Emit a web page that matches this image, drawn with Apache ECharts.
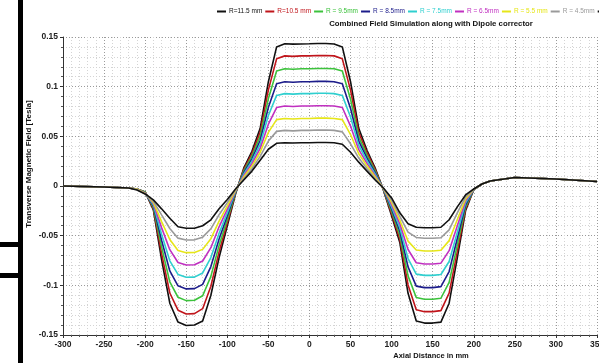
<!DOCTYPE html>
<html>
<head>
<meta charset="utf-8">
<script src="https://cdn.jsdelivr.net/npm/echarts@6/dist/echarts.min.js"></script>
<style>
  html, body {margin: 0; padding: 0; background: #fff;}
  #chart {width: 599px; height: 363px;}
</style>
</head>
<body>
<div id="chart"></div>
<script>
// axial positions in mm
const xPos = [-300, -250, -220, -210, -200, -190, -180, -170, -160, -150, -140, -130, -120, -110, -100, -90, -80, -70, -60, -50,
  -40, -30, -20, -10, 0, 10, 20, 30, 40, 50, 60, 70, 80, 90, 100, 110, 120, 130, 140, 150,
  160, 170, 180, 190, 200, 210, 220, 250, 300, 350];

const seriesNames = ['R=11.5 mm', 'R=10.5 mm', 'R = 9.5mm', 'R = 8.5mm', 'R = 7.5mm', 'R = 6.5mm', 'R = 5.5 mm', 'R = 4.5mm', 'R = 3.5mm'];
const seriesColors = ['#111111', '#c0151b', '#3cc23c', '#1c1c8a', '#2fcfcf', '#c030c0', '#e6e619', '#9a9a9a', '#111111'];

// transverse field in Tesla, one array per radius
const r115 = [0, -0.001, -0.002, -0.003, -0.006, -0.024, -0.074, -0.118, -0.137, -0.1405, -0.140, -0.136, -0.110, -0.072, -0.040, -0.008, 0.018, 0.035, 0.058, 0.105,
  0.140, 0.1432, 0.1428, 0.143, 0.1432, 0.1435, 0.1435, 0.143, 0.140, 0.105, 0.058, 0.036, 0.018, -0.004, -0.030, -0.057, -0.108, -0.136, -0.138, -0.138,
  -0.137, -0.118, -0.072, -0.025, -0.0035, 0.002, 0.005, 0.0085, 0.007, 0.0045];
const r105 = [0, -0.001, -0.002, -0.003, -0.006, -0.0228, -0.068, -0.1077, -0.125, -0.1288, -0.1285, -0.1235, -0.1009, -0.0661, -0.0368, -0.0074, 0.0166, 0.0326, 0.0542, 0.0968,
  0.128, 0.131, 0.1305, 0.131, 0.131, 0.1313, 0.1313, 0.131, 0.128, 0.0965, 0.0539, 0.0335, 0.0166, -0.0038, -0.0278, -0.0534, -0.0996, -0.1246, -0.1265, -0.1265,
  -0.1255, -0.1079, -0.0659, -0.0231, -0.0035, 0.002, 0.005, 0.0085, 0.007, 0.0045];
const r95 = [0, -0.001, -0.002, -0.003, -0.006, -0.0215, -0.0613, -0.0966, -0.112, -0.1154, -0.115, -0.1105, -0.091, -0.0598, -0.0334, -0.0068, 0.015, 0.030, 0.050, 0.088,
  0.1157, 0.118, 0.1175, 0.118, 0.118, 0.1183, 0.1183, 0.118, 0.1157, 0.0873, 0.0495, 0.0308, 0.015, -0.0035, -0.0255, -0.0495, -0.0905, -0.1123, -0.114, -0.114,
  -0.113, -0.097, -0.0593, -0.021, -0.0035, 0.002, 0.005, 0.0085, 0.007, 0.0045];
const r85 = [0, -0.001, -0.002, -0.003, -0.007, -0.020, -0.0546, -0.0855, -0.1005, -0.1036, -0.1033, -0.099, -0.0811, -0.0534, -0.0299, -0.0061, 0.0134, 0.0274, 0.0458, 0.0792,
  0.103, 0.105, 0.1045, 0.105, 0.105, 0.1053, 0.1053, 0.105, 0.103, 0.078, 0.0451, 0.028, 0.0134, -0.0032, -0.0232, -0.0456, -0.0814, -0.1008, -0.1023, -0.1023,
  -0.1013, -0.0861, -0.0526, -0.0189, -0.0035, 0.002, 0.005, 0.0085, 0.007, 0.0045];
const r75 = [0, -0.001, -0.002, -0.003, -0.007, -0.019, -0.0485, -0.0753, -0.089, -0.0919, -0.0917, -0.0875, -0.072, -0.0475, -0.0268, -0.0055, 0.012, 0.025, 0.042, 0.071,
  0.0912, 0.093, 0.0925, 0.093, 0.093, 0.0933, 0.0933, 0.093, 0.0912, 0.0695, 0.041, 0.0255, 0.012, -0.003, -0.021, -0.042, -0.073, -0.0887, -0.090, -0.090,
  -0.0891, -0.076, -0.0465, -0.017, -0.0035, 0.002, 0.005, 0.0085, 0.007, 0.0045];
const r65 = [0, -0.001, -0.002, -0.003, -0.007, -0.0177, -0.0419, -0.0641, -0.077, -0.0795, -0.0793, -0.0755, -0.0621, -0.0411, -0.0233, -0.0049, 0.0104, 0.0224, 0.0378, 0.0622,
  0.079, 0.0805, 0.080, 0.0805, 0.0805, 0.0808, 0.0808, 0.0805, 0.079, 0.0603, 0.0366, 0.0228, 0.0104, -0.0027, -0.0187, -0.0381, -0.0639, -0.0773, -0.0785, -0.0785,
  -0.0777, -0.0651, -0.0399, -0.0149, -0.0035, 0.002, 0.005, 0.0085, 0.007, 0.0045];
const r55 = [0, -0.001, -0.002, -0.003, -0.0075, -0.0165, -0.0358, -0.0539, -0.065, -0.0671, -0.067, -0.0638, -0.053, -0.0353, -0.0201, -0.0043, 0.009, 0.020, 0.034, 0.054,
  0.0668, 0.068, 0.0675, 0.068, 0.068, 0.0683, 0.0683, 0.068, 0.0668, 0.0518, 0.0325, 0.0203, 0.009, -0.0025, -0.0165, -0.0345, -0.0555, -0.0644, -0.0654, -0.0654,
  -0.0647, -0.055, -0.0338, -0.013, -0.0035, 0.002, 0.005, 0.0085, 0.007, 0.0045];
const r45 = [0, -0.001, -0.002, -0.0035, -0.008, -0.0152, -0.0291, -0.0428, -0.0525, -0.0543, -0.0542, -0.0515, -0.0431, -0.0289, -0.0167, -0.0036, 0.0074, 0.0174, 0.0298, 0.0452,
  0.055, 0.056, 0.0555, 0.056, 0.056, 0.0563, 0.0563, 0.056, 0.0545, 0.0425, 0.0281, 0.0175, 0.0074, -0.0022, -0.0142, -0.0306, -0.0464, -0.0518, -0.0526, -0.0526,
  -0.0521, -0.0441, -0.0271, -0.0109, -0.0035, 0.002, 0.005, 0.0085, 0.007, 0.0045];
const r35 = [0, -0.001, -0.002, -0.004, -0.008, -0.014, -0.023, -0.0325, -0.041, -0.0426, -0.0426, -0.040, -0.034, -0.023, -0.0135, -0.003, 0.006, 0.015, 0.026, 0.037,
  0.043, 0.0436, 0.0433, 0.0436, 0.0435, 0.0438, 0.0438, 0.0436, 0.042, 0.034, 0.024, 0.015, 0.006, -0.002, -0.012, -0.027, -0.038, -0.0415, -0.042, -0.042,
  -0.0415, -0.034, -0.021, -0.009, -0.003, 0.002, 0.005, 0.0085, 0.007, 0.0045];

const fieldData = [r115, r105, r95, r85, r75, r65, r55, r45, r35];

const FONT = 'Liberation Sans';

const chart = echarts.init(document.getElementById('chart'), null, {renderer: 'canvas'});

const option = {
  animation: false,
  backgroundColor: '#ffffff',
  title: {
    text: 'Combined Field Simulation along with Dipole corrector',
    left: 431,
    top: 20,
    textAlign: 'center',
    padding: 0,
    textStyle: {fontFamily: FONT, fontSize: 7.8, fontWeight: 'bold', color: '#111'},
  },
  legend: {
    left: 217,
    top: 8,
    width: 700,
    padding: 0,
    itemGap: 3,
    itemWidth: 9,
    itemHeight: 2,
    icon: 'rect',
    data: seriesNames.map((name, i) => ({
      name,
      textStyle: {color: seriesColors[i]},
    })),
    textStyle: {fontFamily: FONT, fontSize: 6.5, padding: [0, 0, 0, -2]},
  },
  grid: {left: 63, right: 2, top: 37, bottom: 28, containLabel: false, outerBoundsMode: 'none'},
  xAxis: {
    type: 'value',
    min: -300,
    max: 350,
    interval: 50,
    name: 'Axial Distance in mm',
    nameLocation: 'middle',
    nameGap: 17,
    nameMoveOverlap: false,
    nameTextStyle: {fontFamily: FONT, fontSize: 7.5, fontWeight: 'bold', color: '#111', padding: [0, 0, 0, 202]},
    axisLine: {onZero: false, lineStyle: {color: '#333', width: 1}},
    axisTick: {inside: false, length: 3, lineStyle: {color: '#333'}},
    minorTick: {show: true, splitNumber: 5, length: 2, lineStyle: {color: '#555'}},
    axisLabel: {fontFamily: FONT, fontSize: 8.5, fontWeight: 'bold', color: '#222', margin: 5, showMaxLabel: true},
    splitLine: {show: true, lineStyle: {color: '#9a9a9a', type: [1, 2], width: 1}},
    minorSplitLine: {show: true, lineStyle: {color: '#d4d4d4', type: [1, 2], width: 1}},
  },
  yAxis: {
    type: 'value',
    min: -0.15,
    max: 0.15,
    interval: 0.05,
    name: 'Transverse Magnetic Field [Tesla]',
    nameLocation: 'middle',
    nameGap: 30,
    nameRotate: 90,
    nameMoveOverlap: false,
    nameTextStyle: {fontFamily: FONT, fontSize: 8, fontWeight: 'bold', color: '#111', padding: [0, 0, 0, 44]},
    axisLine: {show: true, onZero: false, lineStyle: {color: '#333', width: 1}},
    axisTick: {show: true, inside: false, length: 3, lineStyle: {color: '#333'}},
    minorTick: {show: true, splitNumber: 5, length: 2, lineStyle: {color: '#555'}},
    axisLabel: {fontFamily: FONT, fontSize: 8.5, fontWeight: 'bold', color: '#222', margin: 5},
    splitLine: {show: true, lineStyle: {color: '#9a9a9a', type: [1, 2], width: 1}},
    minorSplitLine: {show: true, lineStyle: {color: '#d4d4d4', type: [1, 2], width: 1}},
  },
  series: seriesNames.map((name, i) => ({
    name,
    type: 'line',
    showSymbol: false,
    symbol: 'none',
    color: seriesColors[i],
    lineStyle: {width: 1.6, color: seriesColors[i]},
    data: xPos.map((x, j) => [x, fieldData[i][j]]),
  })),
  graphic: [
    // black bars at the left edge of the source image
    {type: 'rect', shape: {x: 18, y: 0, width: 5, height: 363}, style: {fill: '#000'}},
    {type: 'rect', shape: {x: 0, y: 242, width: 20, height: 5}, style: {fill: '#000'}},
    {type: 'rect', shape: {x: 0, y: 273, width: 20, height: 5}, style: {fill: '#000'}},
  ],
};

chart.setOption(option);
</script>
</body>
</html>
